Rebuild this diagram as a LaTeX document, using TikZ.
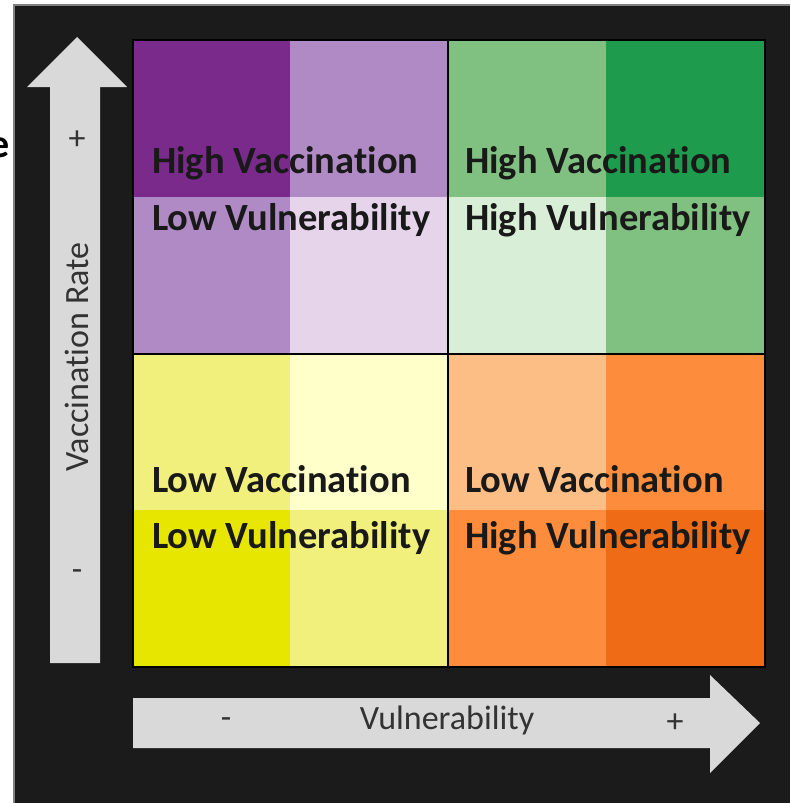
\documentclass[tikz,border=0pt]{standalone}
\usepackage{fontspec}
\setmainfont{Carlito}[Ligatures=NoCommon]
\usetikzlibrary{positioning}
\definecolor{bg}{HTML}{1B1B1B}
\definecolor{arrowgrey}{HTML}{D9D9D9}
\definecolor{purpledark}{HTML}{7A2A8B}
\definecolor{purplemid}{HTML}{AF8AC5}
\definecolor{purplelight}{HTML}{E6D4EB}
\definecolor{greenmid}{HTML}{80C080}
\definecolor{greendark}{HTML}{1E9B4D}
\definecolor{greenlight}{HTML}{D9EED6}
\definecolor{yellowmid}{HTML}{F2F07C}
\definecolor{yellowlight}{HTML}{FFFFC9}
\definecolor{yellowdark}{HTML}{E6E600}
\definecolor{orangelight}{HTML}{FDBE85}
\definecolor{orangemid}{HTML}{FD8D3C}
\definecolor{orangedark}{HTML}{EF6B16}
\begin{document}
\begin{tikzpicture}[x=1pt,y=-1pt,
  quad/.style={font=\bfseries\fontsize{38.5}{38.5}\selectfont,anchor=base west,inner sep=0pt,text=black!90},
  axis/.style={font=\fontsize{34}{34}\selectfont,inner sep=0pt,text=black!80}]
\useasboundingbox (0,0) rectangle (790,803);
\fill[bg] (14,5) rectangle (790,803);
\draw[gray,line width=1.5pt] (14,803) -- (14,5) -- (790,5);
\node[font=\bfseries\fontsize{40}{40}\selectfont,anchor=base east,inner sep=0pt] (cut) at (10,157) {e};
% high vaccination, low vulnerability
\fill[purpledark] (133,40) rectangle (290,197);
\fill[purplemid] (290,40) rectangle (448,197);
\fill[purplemid] (133,197) rectangle (290,354);
\fill[purplelight] (290,197) rectangle (448,354);
% high vaccination, high vulnerability
\fill[greenmid] (448,40) rectangle (606,197);
\fill[greendark] (606,40) rectangle (765,197);
\fill[greenlight] (448,197) rectangle (606,354);
\fill[greenmid] (606,197) rectangle (765,354);
% low vaccination, low vulnerability
\fill[yellowmid] (133,354) rectangle (290,510);
\fill[yellowlight] (290,354) rectangle (448,510);
\fill[yellowdark] (133,510) rectangle (290,667);
\fill[yellowmid] (290,510) rectangle (448,667);
% low vaccination, high vulnerability
\fill[orangelight] (448,354) rectangle (606,510);
\fill[orangemid] (606,354) rectangle (765,510);
\fill[orangemid] (448,510) rectangle (606,667);
\fill[orangedark] (606,510) rectangle (765,667);
\draw[black,line width=2pt] (133,40) rectangle (765,667) (448,40) -- (448,667) (133,354) -- (765,354);
\node[quad] (hv1) at (152,173) {High Vaccination};
\node[quad] (lv1) at (152,230) {Low Vulnerability};
\node[quad] (hv2) at (465,173) {High Vaccination};
\node[quad] (hu2) at (465,230) {High Vulnerability};
\node[quad] (lc3) at (152,492) {Low Vaccination};
\node[quad] (lv3) at (152,548) {Low Vulnerability};
\node[quad] (lc4) at (465,492) {Low Vaccination};
\node[quad] (hu4) at (465,548) {High Vulnerability};
% arrows
\fill[arrowgrey] (50,663) -- (50,87) -- (27,87) -- (77,37) -- (127,87) -- (100,87) -- (100,663) -- cycle;
\fill[arrowgrey] (133,698) -- (710,698) -- (710,675) -- (760,723) -- (710,773) -- (710,748) -- (133,748) -- cycle;
\node[axis] (vplus) at (77,140) {+};
\node[axis,rotate=90] (vrate) at (77,357) {Vaccination Rate};
\node[axis] (vminus) at (77,575) {-};
\node[axis] (hminus) at (226,723) {-};
\node[axis] (vul) at (447,720) {Vulnerability};
\node[axis] (hplus) at (675,723) {+};
\end{tikzpicture}
\end{document}
